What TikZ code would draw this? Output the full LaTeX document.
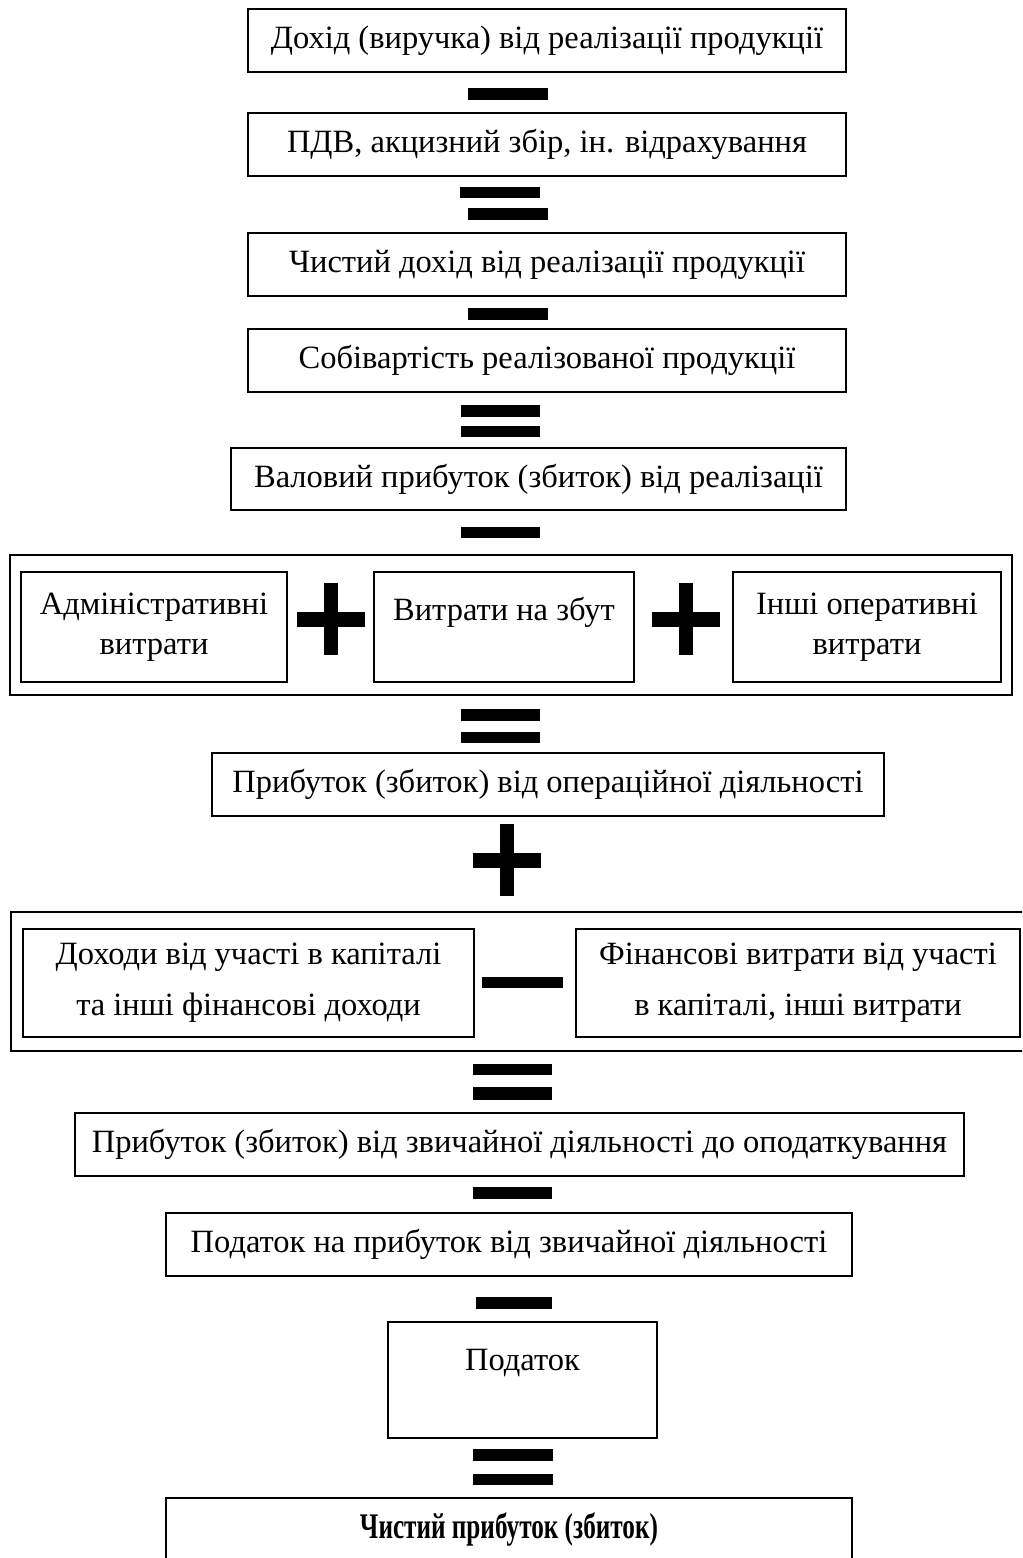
\documentclass[tikz,border=0pt]{standalone}
\usepackage{fontspec}
\setmainfont{Liberation Serif}
\newfontfamily\narrowbold[FakeStretch=0.70]{Liberation Serif}
\usepackage{tikz}
\usetikzlibrary{positioning}

\tikzset{
    box/.style={draw, line width=0.9pt, align=center, inner sep=0pt, minimum height=1.26cm},
    bar/.style={fill=black}
}

\begin{document}
\begin{tikzpicture}[x=0.02cm, y=-0.02cm, font=\fontsize{18.5}{23}\selectfont]
    \clip (0,0) rectangle (1022,1558);
    \useasboundingbox (0,0) rectangle (1022,1558);

    % Main chain
    \node[box, minimum width=11.96cm] (revenue) at (547,40.5) {Дохід (виручка) від реалізації продукції};
    \node[box, minimum width=11.96cm] (vat) at (547,144.5) {ПДВ, акцизний збір, ін. відрахування};
    \node[box, minimum width=11.96cm] (netrev) at (547,264.5) {Чистий дохід від реалізації продукції};
    \node[box, minimum width=11.96cm] (cost) at (547,360.5) {Собівартість реалізованої продукції};
    \node[box, minimum width=12.3cm, minimum height=1.24cm] (gross) at (538.5,479) {Валовий прибуток (збиток) від реалізації};

    % Operating expenses
    \node[box, minimum width=20.04cm, minimum height=2.8cm] (opgroup) at (511,625) {};
    \node[box, minimum width=5.32cm, minimum height=2.2cm] (admin) at (154,627) {\raisebox{-4pt}{Адміністративні}\\\raisebox{-4pt}{витрати}};
    \node[box, minimum width=5.2cm, minimum height=2.2cm] (sales) at (504,627) {\raisebox{-2pt}{Витрати на збут}\\\mbox{}};
    \node[box, minimum width=5.36cm, minimum height=2.2cm] (otherop) at (867,627) {\raisebox{-4pt}{Інші оперативні}\\\raisebox{-4pt}{витрати}};

    \node[box, minimum width=13.44cm] (opprofit) at (548,784.5) {Прибуток (збиток) від операційної діяльності};

    % Financial results
    \node[box, minimum width=20.4cm, minimum height=2.78cm, anchor=north west] (fingroup) at (10,911) {};
    \node[box, minimum width=9.02cm, minimum height=2.16cm] (finincome) at (248.5,983) {Доходи від участі в капіталі\\[6pt]та інші фінансові доходи};
    \node[box, minimum width=8.88cm, minimum height=2.16cm] (fincost) at (798,983) {Фінансові витрати від участі\\[6pt]в капіталі, інші витрати};

    \node[box, minimum width=17.78cm] (pretax) at (519.5,1144.5) {Прибуток (збиток) від звичайної діяльності до оподаткування};
    \node[box, minimum width=13.72cm] (incometax) at (509,1244.5) {Податок на прибуток від звичайної діяльності};
    \node[box, minimum width=5.38cm, minimum height=2.32cm] (tax) at (522.5,1380) {Податок\\\mbox{}};
    \node[box, minimum width=13.72cm] (netprofit) at (509,1529.5) {\narrowbold\fontsize{20.5}{24}\selectfont\bfseries Чистий прибуток (збиток)};

    % Minus and equals bars
    \foreach \xa/\ya/\xb/\yb in {468/88/548/100, 460/187/540/198, 468/208/548/220, 468/308/548/320,
        461/405/540/417, 461/426/540/437, 461/527/540/538, 461/709/540/721, 461/732/540/743,
        482/977/563/988, 473/1064/552/1075, 473/1087/552/1100, 473/1187/552/1199,
        476/1297/552/1309, 473/1449/553/1461, 473/1474/553/1485}
        \fill[bar] (\xa,\ya) rectangle (\xb,\yb);

    % Plus signs
    \foreach \cx/\cy in {331/619, 686/619, 507/860}
    {
        \fill[bar] (\cx-7,\cy-36) rectangle (\cx+7,\cy+36);
        \fill[bar] (\cx-34,\cy-7.5) rectangle (\cx+34,\cy+7.5);
    }
\end{tikzpicture}
\end{document}
